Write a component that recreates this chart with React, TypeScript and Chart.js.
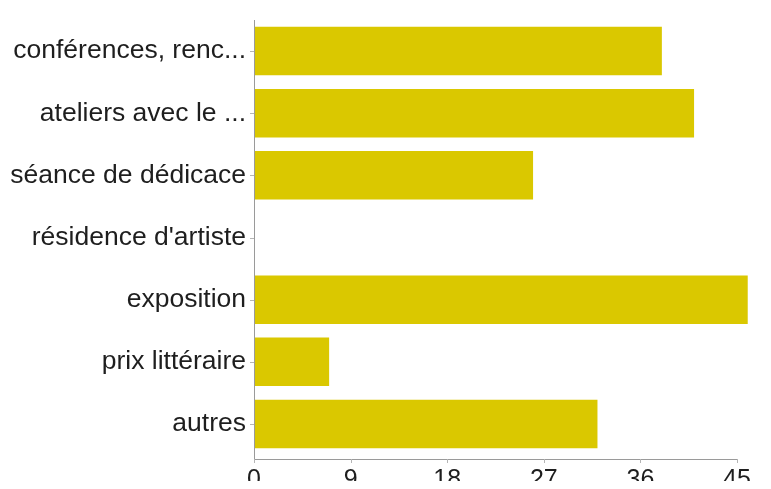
import React, { useEffect, useRef } from "react";
import { Chart, registerables } from "chart.js";

Chart.register(...registerables);

const categories = [
  "conférences, renc...",
  "ateliers avec le ...",
  "séance de dédicace",
  "résidence d'artiste",
  "exposition",
  "prix littéraire",
  "autres",
];
const values = [38, 41, 26, 0, 46, 7, 32];
const xTicks = [0, 9, 18, 27, 36, 45];

const AXIS_GAP = 4;

const axisPlugin = {
  id: "axisLines",
  afterDraw(chart: any) {
    const { ctx, chartArea } = chart;
    const xs = chart.scales.x;
    const ys = chart.scales.y;
    const bottom = chartArea.bottom + AXIS_GAP;
    ctx.save();
    ctx.strokeStyle = "#9a9a9a";
    ctx.lineWidth = 1;
    ctx.beginPath();
    ctx.moveTo(chartArea.left + 0.5, chartArea.top);
    ctx.lineTo(chartArea.left + 0.5, bottom + 0.5);
    ctx.lineTo(chartArea.right + 1, bottom + 0.5);
    ctx.stroke();
    ctx.strokeStyle = "#b5b5b5";
    ctx.beginPath();
    xTicks.forEach((v) => {
      const px = Math.round(xs.getPixelForValue(v)) + 0.5;
      ctx.moveTo(px, bottom);
      ctx.lineTo(px, bottom + 4);
    });
    categories.forEach((_, i) => {
      const py = Math.round(ys.getPixelForValue(i)) + 0.5;
      ctx.moveTo(chartArea.left - 4, py);
      ctx.lineTo(chartArea.left, py);
    });
    ctx.stroke();
    ctx.restore();
  },
};

export default function App() {
  const ref = useRef<HTMLCanvasElement | null>(null);
  useEffect(() => {
    if (!ref.current) return;
    const chart = new Chart(ref.current, {
      type: "bar",
      data: {
        labels: categories,
        datasets: [
          {
            data: values,
            backgroundColor: "#dac800",
            borderWidth: 0,
            categoryPercentage: 1,
            barPercentage: 0.78,
            clip: false,
          } as any,
        ],
      },
      options: {
        indexAxis: "y",
        animation: false,
        responsive: false,
        maintainAspectRatio: false,
        layout: { padding: { top: 20, right: 34, left: 0, bottom: 0 } },
        plugins: {
          legend: { display: false },
          tooltip: { enabled: false },
        },
        scales: {
          x: {
            min: 0,
            max: 45,
            afterBuildTicks: (scale: any) => {
              scale.ticks = xTicks.map((v) => ({ value: v }));
            },
            afterFit: (scale: any) => {
              scale.height = 34;
              scale.paddingLeft = 0;
              scale.paddingRight = 0;
            },
            grid: { display: false, drawTicks: false },
            border: { display: false },
            ticks: {
              padding: 10,
              color: "#1e1e1e",
              font: { family: "Liberation Sans", size: 25 },
              maxRotation: 0,
              autoSkip: false,
            },
          },
          y: {
            afterFit: (scale: any) => {
              scale.width = 254;
              scale.paddingTop = 0;
              scale.paddingBottom = 0;
            },
            grid: { display: false, drawTicks: false },
            border: { display: false },
            ticks: {
              padding: 8,
              color: "#1e1e1e",
              font: { family: "Liberation Sans", size: 26.5 },
              autoSkip: false,
            },
          },
        },
      },
      plugins: [axisPlugin],
    });
    return () => chart.destroy();
  }, []);
  return (
    <div style={{ margin: -8, width: 771, height: 489 }}>
      <canvas ref={ref} width={771} height={489} style={{ display: "block" }} />
    </div>
  );
}
